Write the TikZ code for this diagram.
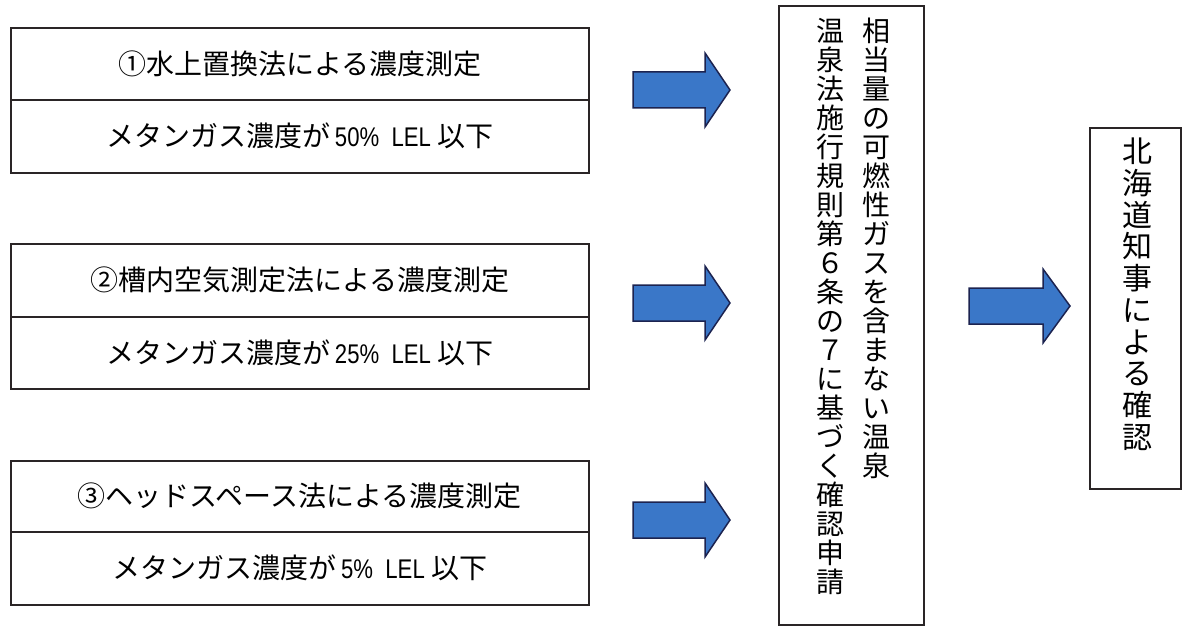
\documentclass[tikz,border=0pt]{standalone}
\usepackage{fontspec}
\newfontfamily\jp{Noto Sans CJK JP}
\newfontfamily\lat[FakeStretch=0.82]{Liberation Sans}
\definecolor{arrowblue}{HTML}{3A77C8}
\definecolor{arrowedge}{HTML}{1C2350}
\definecolor{boxline}{HTML}{2A2526}
\begin{document}
\begin{tikzpicture}[x=1pt,y=-1pt,
  box/.style={draw=boxline, line width=1.6pt, inner sep=0pt, anchor=north west},
  htext/.style={font=\jp\fontsize{28}{32}\selectfont},
  vtext/.style={font=\jp\fontsize{28}{29}\selectfont, align=center, anchor=north, inner sep=0pt},
  vtextb/.style={font=\jp\fontsize{30}{31.7}\selectfont, align=center, anchor=north, inner sep=0pt},
  blockarrow/.style={fill=arrowblue, draw=arrowedge, line width=1.5pt, line join=miter}
]
\useasboundingbox (0,0) rectangle (1182,628);
\newcommand\lel[1]{{\lat\fontsize{27}{30}\selectfont #1}}
% left boxes
\node[box, htext, minimum width=578, minimum height=72] (b1t) at (10,27) {①水上置換法による濃度測定};
\node[box, htext, minimum width=578, minimum height=73] (b1b) at (10,99) {メタンガス濃度が\,\lel{50\%\ \ LEL}\ 以下};
\node[box, htext, minimum width=578, minimum height=73] (b2t) at (10,243) {②槽内空気測定法による濃度測定};
\node[box, htext, minimum width=578, minimum height=72] (b2b) at (10,316) {メタンガス濃度が\,\lel{25\%\ \ LEL}\ 以下};
\node[box, htext, minimum width=578, minimum height=71] (b3t) at (10,460) {③ヘッドスペース法による濃度測定};
\node[box, htext, minimum width=578, minimum height=73] (b3b) at (10,531) {メタンガス濃度が\,\lel{5\%\ \ LEL}\ 以下};
% middle box
\node[box, minimum width=145, minimum height=619] (mid) at (778,5) {};
\node[vtext] (midR) at (876,18) {相\\当\\量\\の\\可\\燃\\性\\ガ\\ス\\を\\含\\ま\\な\\い\\温\\泉};
\node[vtext] (midL) at (830,18) {温\\泉\\法\\施\\行\\規\\則\\第\\６\\条\\の\\７\\に\\基\\づ\\く\\確\\認\\申\\請};
% right box
\node[box, minimum width=91, minimum height=361] (fin) at (1089,127) {};
\node[vtextb] (finT) at (1137,138) {北\\海\\道\\知\\事\\に\\よ\\る\\確\\認};
% block arrows
\foreach \n/\cy in {1/90,2/303,3/520}{
  \draw[blockarrow] (633,\cy-18) -- (705,\cy-18) -- (705,\cy-37) -- (730,\cy) -- (705,\cy+37) -- (705,\cy+18) -- (633,\cy+18) -- cycle;
}
\draw[blockarrow] (969,288) -- (1043,288) -- (1043,269) -- (1070,306) -- (1043,343) -- (1043,324) -- (969,324) -- cycle;
\end{tikzpicture}
\end{document}
